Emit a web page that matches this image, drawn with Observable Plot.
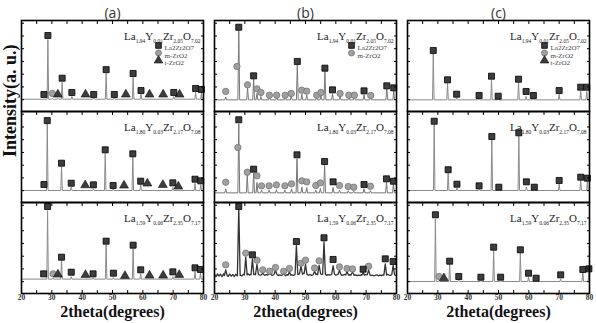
<!DOCTYPE html>
<html><head><meta charset="utf-8">
<script src="https://cdn.jsdelivr.net/npm/d3@7"></script>
<script src="https://cdn.jsdelivr.net/npm/@observablehq/plot@0.6"></script>
<style>body{margin:0;background:#fff} #chart{width:596px;height:323px}</style>
</head><body><div id="chart"></div>
<script>
// ---------- data ----------
const panels = ["a", "b", "c"];
const rows = [1, 2, 3];
const formulas = ["La1.94Y0.01Zr2.05O7.02", "La1.80Y0.03Zr2.17O7.08", "La1.59Y0.06Zr2.35O7.17"];
const xTickLabels = [20, 30, 40, 50, 60, 70, 80];
const xMinorTicks = [20, 25, 30, 35, 40, 45, 50, 55, 60, 65, 70, 75, 80];
const yTicks = [13, 27, 41, 55, 69, 83, 97];
const legendSquarePanels = ["a", "b", "c"];
const legendCirclePanels = ["a", "b", "c"];
const legendTrianglePanels = ["a", "c"];
const legendLabels = ["La2Zr2O7", "m-ZrO2", "t-ZrO2"];
const titleX = "2theta(degrees)";
const titleY = "Intensity(a. u.)";

// panel (a)
const a1Base = 13.5;
const a1Peaks = [[28.7,79],[30.2,14.5],[32.0,14.5],[33.4,32],[36.6,16.5],[43.8,15],[47.9,42],[50.6,15],[56.8,37.5],[59.4,19],[70.2,16.5],[77.4,21],[79.3,20]];
const a1Squares = [[27.4,18.7],[28.7,83.5],[33.4,36.6],[36.6,20.9],[43.8,18.7],[47.9,46],[50.6,18.7],[56.8,41.8],[59.4,23],[70.2,20.9],[77.4,25.3],[79.3,24.2]];
const a1Circles = [[30.2,19.8]];
const a1Triangles = [[32.0,18.7],[41.1,18.7],[54.4,18.7],[62.2,18.7],[66.7,18.7],[72.1,18.7]];

const a2Base = 13.2;
const a2Peaks = [[28.5,86.5],[33.2,39.6],[36.4,16.8],[43.7,15],[47.6,54],[50.2,15],[56.7,49.8],[59.3,19.8],[69.9,16.5],[77.2,21],[79.1,19.5]];
const a2Squares = [[27.4,19.8],[28.5,90],[33.2,43.2],[36.4,21.2],[43.7,19.4],[47.6,57.9],[50.2,18.7],[56.7,53.5],[59.3,23.4],[69.9,21.6],[77.2,25.6],[79.1,23.8]];
const a2Circles = [];
const a2Triangles = [[41.0,19],[53.8,18.7],[61.5,20.9],[66.6,19.4],[71.7,17.6]];

const a3Base = 15.8;
const a3Peaks = [[28.6,91],[30.4,17],[33.2,36.3],[36.4,18.5],[43.6,17.5],[47.9,53.5],[50.3,17.5],[56.8,49.5],[59.3,21.6],[69.9,18.5],[77.2,24],[79.0,22.5]];
const a3Squares = [[27.3,21.6],[28.6,95.6],[33.2,39.9],[36.4,23.4],[43.6,21.6],[47.9,57.5],[50.3,22.3],[56.8,53.1],[59.3,26],[69.9,23.8],[77.2,28.2],[79.0,26.4]];
const a3Circles = [[30.4,21.6]];
const a3Triangles = [[32.0,20.9],[41.1,20.5],[54.1,19.4],[62.2,19.8],[66.7,19.8],[72.0,20.5]];

// panel (b)
const b1Base = 12.8;
const b1Peaks = [[23.7,16],[28.0,89],[30.9,26],[32.9,36],[34.0,20],[35.3,16.5],[38.1,15.5],[40.5,15.5],[43.3,15.5],[45.3,17],[47.3,51.3],[48.8,19],[50.4,18],[53.7,15.5],[55.1,17.5],[56.4,44.3],[58.9,19.5],[61.4,16.5],[64.3,15.5],[66.1,15.5],[69.3,18.5],[71.5,15],[76.8,25],[79.1,23]];
const b1Squares = [[28.0,92.6],[32.9,39.2],[47.3,55],[56.4,47.6],[58.9,23.8],[69.3,22.7],[76.8,28.2],[79.1,26]];
const b1Circles = [[23.7,22],[27.4,49.5],[30.9,29.3],[34.0,24.9],[35.3,20.9],[38.1,17.9],[40.5,17.9],[43.3,17.9],[45.3,19.8],[48.8,23.4],[50.4,22.3],[53.7,17.9],[55.1,20.9],[61.4,19.8],[64.3,17.9],[66.1,17.9],[71.5,17.6]];
const b1Triangles = [];

const b2Base = 10.6;
const b2Peaks = [[23.7,15],[28.0,86.5],[30.8,29.7],[32.9,32.2],[34.0,22],[35.5,13.5],[38.0,13.5],[40.4,14],[43.2,13.5],[45.4,15],[47.2,48],[48.8,17],[50.4,16.5],[53.4,13.5],[54.9,15.5],[56.3,40.7],[59.1,16.5],[61.2,13.5],[64.1,13],[65.9,12.5],[69.3,15],[71.4,13],[76.7,22.3],[79.0,21]];
const b2Squares = [[28.0,90.9],[32.9,36.6],[47.2,52.4],[56.3,45],[59.1,22.7],[69.3,19.8],[76.7,26],[79.0,23.4]];
const b2Circles = [[23.7,22.3],[27.7,60.4],[30.8,33.3],[34.0,29.3],[35.5,18.3],[38.0,18.3],[40.4,19.4],[43.2,18.3],[45.4,20.5],[48.8,23.8],[50.4,22.7],[53.4,18.7],[54.9,21.6],[61.2,18.7],[64.1,17.6],[65.9,16.8],[71.4,17.9]];
const b2Triangles = [];

// noisy background of the bottom (b) pattern, read every 0.5 degree from 20 to 80
const b3Background = [
  21.0,18.6,21.5,19.2,21.2,18.4,21.8,19.6,20.5,18.8,21.3,19.1,20.9,18.5,21.1,19.4,
  19.9,20.5,19.3,21.0,19.7,20.4,21.6,20.2,21.1,20.8,
  21.3,20.6,21.9,20.7,20.2,21.1,20.5,19.9,20.7,20.1,
  20.9,20.4,19.8,20.6,21.2,20.3,19.7,20.5,20.0,20.8,
  20.2,19.6,20.7,20.1,21.0,20.5,19.9,20.6,21.1,20.7,
  21.7,22.2,21.3,22.6,21.9,21.0,20.3,20.8,20.0,20.6,
  20.9,21.5,20.7,22.1,21.6,20.9,21.2,20.5,19.9,20.7,
  20.1,20.8,21.3,20.6,20.0,20.9,21.1,20.4,19.8,20.5,
  21.0,20.3,19.7,20.6,20.2,20.9,20.0,20.4,19.6,20.3,
  19.9,20.7,20.2,21.0,20.5,19.8,20.4,19.7,20.1,19.5,
  20.0,20.6,19.4,20.1,19.7,20.5,21.0,20.2,21.1,20.3,
  19.8,20.6,20.9,20.1,19.7
];
const b3Peaks = [[23.7,26],[28.0,95],[30.3,40],[32.5,38],[34.0,32],[35.9,22.5],[38.2,21.5],[40.1,25.5],[42.8,21.5],[44.7,24],[47.0,52.7],[48.5,30],[50.0,32],[53.0,24.5],[54.5,31],[56.1,56.8],[59.1,30.5],[61.2,25.5],[63.7,24],[65.5,23.5],[69.0,23],[70.8,26],[76.3,32.6],[78.9,31]];
const b3Squares = [[28.0,95.6],[32.5,42.5],[47.0,57.1],[56.1,61.2],[59.1,37.4],[69.0,26.7],[76.3,38.1],[78.9,35.2]];
const b3Circles = [[23.7,31.5],[30.3,44.3],[34.0,36.6],[35.9,26],[38.2,24.5],[40.1,28.6],[42.8,24.5],[44.7,27.5],[48.5,33.3],[50.0,36.6],[53.0,28],[54.5,35.9],[61.2,29.3],[63.7,27.5],[65.5,27],[70.8,30]];
const b3Triangles = [];

// panel (c)
const c1Base = 12.8;
const c1Peaks = [[28.5,63.4],[33.2,31],[36.2,15],[43.6,14],[47.7,35],[49.9,14],[56.6,32],[59.1,16.5],[61.5,14],[70.0,18.7],[77.1,22.3],[79.1,22]];
const c1Squares = [[28.5,67],[33.2,34.8],[36.2,19],[43.6,17.6],[47.7,38.8],[49.9,16.8],[56.6,35.5],[59.1,22],[61.5,17.6],[70.0,23],[77.1,26.7],[79.1,26.7]];
const c1Circles = [];
const c1Triangles = [];

const c2Base = 13.2;
const c2Peaks = [[28.8,85.7],[33.4,32.2],[36.3,16],[43.6,14.5],[47.8,68.9],[50.1,14],[56.7,72.9],[59.2,17],[61.8,14],[70.0,20.5],[77.1,24.2],[79.3,23]];
const c2Squares = [[28.8,89.3],[33.4,36],[36.3,20.1],[43.6,18.3],[47.8,72.5],[50.1,16.8],[56.7,76.6],[59.2,22.7],[61.8,16.8],[70.0,24.2],[77.1,27.8],[79.3,26.7]];
const c2Circles = [];
const c2Triangles = [];

const c3Base = 13.2;
const c3Peaks = [[29.2,82],[30.4,14.5],[33.9,31.9],[36.9,15],[44.2,14.5],[48.4,47.3],[50.7,14.5],[57.2,44.3],[59.9,17.9],[62.4,14],[70.5,16],[77.8,23.4],[79.8,23]];
const c3Squares = [[29.2,86.5],[33.9,35.5],[36.9,18.7],[44.2,17.9],[48.4,50.9],[50.7,17.9],[57.2,48],[59.9,22.3],[62.4,16.8],[70.5,20.5],[77.8,26.4],[79.8,27.1]];
const c3Circles = [[30.4,18.7]];
const c3Triangles = [[32.0,16.8]];

// ---------- build tables ----------
function sharpLine(base, peaks, w) {
  const pts = [[20, base]];
  for (const [x, top] of [...peaks].sort((p, q) => p[0] - q[0])) pts.push([x - w, base], [x, top], [x + w, base]);
  pts.push([80, base]);
  return pts;
}
function noisyLine(bg, peaks, w) {
  const pts = [];
  bg.forEach((v, i) => {
    const x = 20 + i * 0.5;
    if (!peaks.some(([px]) => Math.abs(px - x) < w)) pts.push([x, v]);
  });
  for (const [x, top] of peaks) {
    const v = bg[Math.round((x - 20) * 2)];
    pts.push([x - w, v], [x, top], [x + w, v]);
  }
  return pts.sort((p, q) => p[0] - q[0]);
}

const series = [
  {panel:"a",row:1,pts:sharpLine(a1Base,a1Peaks,0.25),sq:a1Squares,ci:a1Circles,tr:a1Triangles,stroke:"#8a8a8a",sw:1},
  {panel:"a",row:2,pts:sharpLine(a2Base,a2Peaks,0.25),sq:a2Squares,ci:a2Circles,tr:a2Triangles,stroke:"#8a8a8a",sw:1},
  {panel:"a",row:3,pts:sharpLine(a3Base,a3Peaks,0.25),sq:a3Squares,ci:a3Circles,tr:a3Triangles,stroke:"#8a8a8a",sw:1},
  {panel:"b",row:1,pts:sharpLine(b1Base,b1Peaks,0.3),sq:b1Squares,ci:b1Circles,tr:b1Triangles,stroke:"#777",sw:1},
  {panel:"b",row:2,pts:sharpLine(b2Base,b2Peaks,0.3),sq:b2Squares,ci:b2Circles,tr:b2Triangles,stroke:"#777",sw:1},
  {panel:"b",row:3,pts:noisyLine(b3Background,b3Peaks,0.45),sq:b3Squares,ci:b3Circles,tr:b3Triangles,stroke:"#333",sw:1.3},
  {panel:"c",row:1,pts:sharpLine(c1Base,c1Peaks,0.25),sq:c1Squares,ci:c1Circles,tr:c1Triangles,stroke:"#8a8a8a",sw:1},
  {panel:"c",row:2,pts:sharpLine(c2Base,c2Peaks,0.25),sq:c2Squares,ci:c2Circles,tr:c2Triangles,stroke:"#8a8a8a",sw:1},
  {panel:"c",row:3,pts:sharpLine(c3Base,c3Peaks,0.25),sq:c3Squares,ci:c3Circles,tr:c3Triangles,stroke:"#8a8a8a",sw:1}
];
const lineData = series.flatMap(s => s.pts.map(([x, y]) => ({panel: s.panel, row: s.row, key: s.panel + s.row, stroke: s.stroke, sw: s.sw, x, y})));
const markers = kind => series.flatMap(s => s[kind].map(([x, y]) => ({panel: s.panel, row: s.row, x, y})));
const formulaData = panels.flatMap(p => rows.map((r, i) => ({panel: p, row: r, text: formulas[i]})));

const serif = "Liberation Serif";
const blank = () => "";

const svg = Plot.plot({
  width: 596, height: 323,
  marginTop: 20, marginLeft: 20, marginRight: 6, marginBottom: 30,
  x: {domain: [20, 80]},
  y: {domain: [0, 100]},
  fx: {domain: panels, paddingInner: 0.055, paddingOuter: 0},
  fy: {domain: rows, padding: 0, axis: null},
  style: {background: "white", overflow: "visible"},
  marks: [
    Plot.axisFx({anchor: "top", tickSize: 0, tickPadding: 3, tickFormat: d => `(${d})`, fontSize: 14, fontFamily: "Open Sans", fill: "#333", label: null}),
    Plot.line(lineData.filter(d => d.sw === 1), {x: "x", y: "y", z: "key", fx: "panel", fy: "row", stroke: "stroke", strokeWidth: 1}),
    Plot.line(lineData.filter(d => d.sw !== 1), {x: "x", y: "y", z: "key", fx: "panel", fy: "row", stroke: "stroke", strokeWidth: 1.3}),
    Plot.dot(markers("ci"), {x: "x", y: "y", fx: "panel", fy: "row", symbol: "circle", r: 3.2, fill: "#a0a0a0", stroke: "#6e6e6e", strokeWidth: 0.7}),
    Plot.dot(markers("tr"), {x: "x", y: "y", fx: "panel", fy: "row", symbol: "triangle", r: 3.3, fill: "#3d3d3d", stroke: "#111", strokeWidth: 0.6}),
    Plot.dot(markers("sq"), {x: "x", y: "y", fx: "panel", fy: "row", symbol: "square", r: 3.4, fill: "#3d3d3d", stroke: "#000", strokeWidth: 0.8}),
    Plot.frame({stroke: "#000", strokeWidth: 1.6}),
    Plot.axisX(xMinorTicks, {anchor: "top", tickSize: 3, dy: 3, tickFormat: blank, label: null, facetAnchor: null, stroke: "#000"}),
    Plot.axisX(xMinorTicks, {anchor: "bottom", tickSize: 3, dy: -3, tickFormat: blank, label: null, facetAnchor: "bottom", stroke: "#000"}),
    Plot.axisX(xTickLabels, {anchor: "bottom", tickSize: 0, tickPadding: 1, fontSize: 7.5, fontFamily: serif, fontWeight: "bold", fill: "#333", label: null, facetAnchor: "bottom"}),
    Plot.axisY(yTicks, {anchor: "left", tickSize: 3, dx: 3, tickFormat: blank, label: null, facetAnchor: null, stroke: "#000"}),
    Plot.axisY(yTicks, {anchor: "right", tickSize: 3, dx: -3, tickFormat: blank, label: null, facetAnchor: null, stroke: "#000"}),
    Plot.text(formulaData, {text: "text", fx: "panel", fy: "row", frameAnchor: "top-right", textAnchor: "end", dx: -3, dy: 12, fontSize: 11, fontFamily: serif, fill: "#222"}),
    Plot.dot(legendSquarePanels, {fx: d => d, fy: () => 1, frameAnchor: "top-right", dx: -45, dy: 25, symbol: "square", r: 3.2, fill: "#3d3d3d", stroke: "#000", strokeWidth: 0.8}),
    Plot.dot(legendCirclePanels, {fx: d => d, fy: () => 1, frameAnchor: "top-right", dx: -45, dy: 32.5, symbol: "circle", r: 3, fill: "#a0a0a0", stroke: "#6e6e6e", strokeWidth: 0.7}),
    Plot.dot(legendTrianglePanels, {fx: d => d, fy: () => 1, frameAnchor: "top-right", dx: -45, dy: 40, symbol: "triangle", r: 3.2, fill: "#3d3d3d", stroke: "#111", strokeWidth: 0.6}),
    Plot.text(legendSquarePanels, {fx: d => d, fy: () => 1, text: () => legendLabels[0], frameAnchor: "top-right", dx: -39, dy: 25, textAnchor: "start", fontSize: 7, fontFamily: serif, fill: "#444"}),
    Plot.text(legendCirclePanels, {fx: d => d, fy: () => 1, text: () => legendLabels[1], frameAnchor: "top-right", dx: -39, dy: 32.5, textAnchor: "start", fontSize: 7, fontFamily: serif, fill: "#444"}),
    Plot.text(legendTrianglePanels, {fx: d => d, fy: () => 1, text: () => legendLabels[2], frameAnchor: "top-right", dx: -39, dy: 40, textAnchor: "start", fontSize: 7, fontFamily: serif, fill: "#444"}),
    Plot.text(panels, {fx: d => d, fy: () => 3, text: () => titleX, frameAnchor: "bottom", dy: 23.5, fontSize: 16, fontWeight: "bold", fontFamily: serif, fill: "#111"}),
    Plot.text([titleY], {fx: () => "a", fy: () => 2, text: d => d, frameAnchor: "left", dx: -11, rotate: -90, fontSize: 18, fontWeight: "bold", fontFamily: serif, fill: "#111"})
  ]
});

// subscripts in the chemical formulas
const ns = "http://www.w3.org/2000/svg";
const formulaSet = new Set(formulas);
svg.querySelectorAll("text").forEach(t => {
  const s = t.textContent;
  if (!formulaSet.has(s)) return;
  t.textContent = "";
  const re = /([A-Z][a-z]?)([\d.]+)/g;
  let m, shifted = false;
  while ((m = re.exec(s))) {
    const e = document.createElementNS(ns, "tspan");
    e.textContent = m[1];
    if (shifted) e.setAttribute("dy", "-2.5");
    t.appendChild(e);
    const n = document.createElementNS(ns, "tspan");
    n.textContent = m[2];
    n.setAttribute("font-size", "5.5");
    n.setAttribute("dy", "2.5");
    t.appendChild(n);
    shifted = true;
  }
});
document.getElementById("chart").appendChild(svg);
</script></body></html>
